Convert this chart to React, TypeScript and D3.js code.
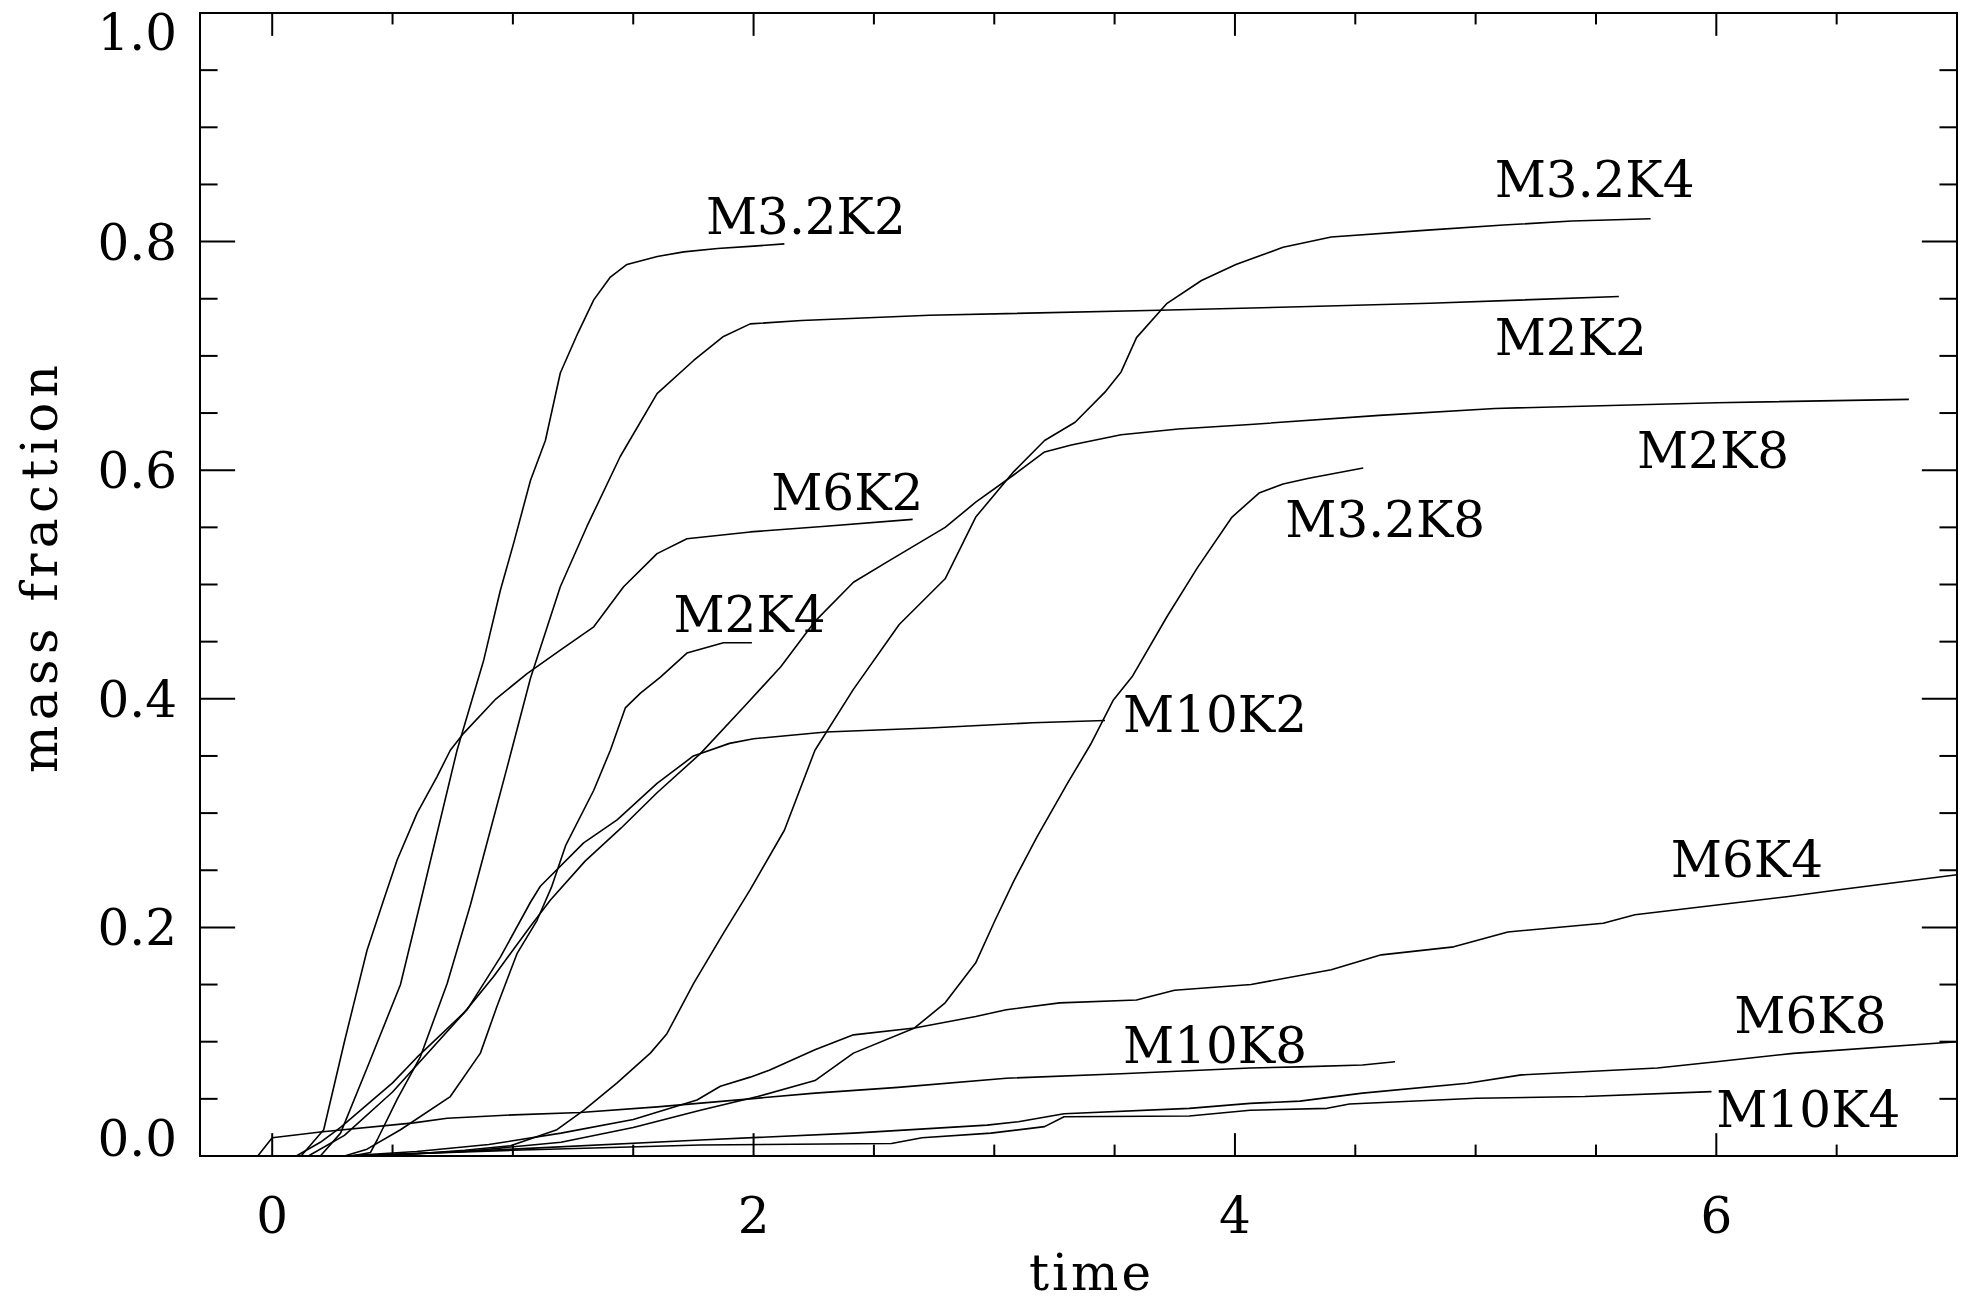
import React from 'react';
import * as d3 from 'd3';

// ---------- data (time, mass fraction) ----------
const M3_2K2: [number, number][] = [
  [0.2, 0], [0.284, 0.02], [0.4, 0.08], [0.533, 0.15], [0.616, 0.222], [0.768, 0.355], [0.879, 0.434],
  [0.948, 0.495], [1.003, 0.536], [1.073, 0.591], [1.135, 0.626], [1.197, 0.685], [1.27, 0.72],
  [1.336, 0.749], [1.405, 0.769], [1.474, 0.78], [1.6, 0.787], [1.71, 0.791], [1.85, 0.794],
  [2.0, 0.796], [2.128, 0.798],
];
const M2K2: [number, number][] = [
  [0.33, 0], [0.408, 0.003], [0.436, 0.014], [0.52, 0.05], [0.616, 0.087], [0.727, 0.151],
  [0.824, 0.22], [0.9, 0.28], [0.976, 0.34], [1.073, 0.418], [1.197, 0.498], [1.308, 0.551],
  [1.446, 0.612], [1.599, 0.667], [1.751, 0.696], [1.875, 0.717], [1.986, 0.728], [2.2, 0.731],
  [2.73, 0.7355], [3.685, 0.74], [4.27, 0.743], [4.81, 0.746], [5.595, 0.752],
];
const M6K2: [number, number][] = [
  [0.12, 0], [0.214, 0.023], [0.3, 0.1], [0.394, 0.18], [0.463, 0.224], [0.519, 0.259],
  [0.602, 0.3], [0.685, 0.332], [0.74, 0.355], [0.796, 0.37], [0.93, 0.4], [1.059, 0.422],
  [1.2, 0.443], [1.336, 0.463], [1.46, 0.498], [1.599, 0.527], [1.723, 0.54], [1.986, 0.546],
  [2.3, 0.551], [2.661, 0.557],
];
const M2K4: [number, number][] = [
  [0.3, 0], [0.394, 0.006], [0.533, 0.023], [0.74, 0.052], [0.865, 0.09], [0.934, 0.131],
  [1.017, 0.177], [1.1, 0.206], [1.16, 0.235], [1.22, 0.272], [1.336, 0.32], [1.405, 0.355],
  [1.467, 0.392], [1.53, 0.405], [1.613, 0.419], [1.723, 0.44], [1.875, 0.449], [1.993, 0.449],
];
const M10K2: [number, number][] = [
  [0.1, 0], [0.2, 0.012], [0.284, 0.025], [0.5, 0.064], [0.6, 0.086], [0.81, 0.128], [0.948, 0.174],
  [1.073, 0.222], [1.114, 0.236], [1.294, 0.274], [1.433, 0.294], [1.599, 0.326], [1.75, 0.35],
  [1.9, 0.361], [2.0, 0.365], [2.3, 0.371], [2.73, 0.3745], [3.16, 0.379], [3.46, 0.381],
];
const M2K8: [number, number][] = [
  [0.15, 0], [0.3, 0.018], [0.5, 0.056], [0.796, 0.125], [0.92, 0.157], [1.073, 0.201],
  [1.156, 0.224], [1.3, 0.258], [1.45, 0.287], [1.6, 0.318], [1.779, 0.352], [1.969, 0.395],
  [2.113, 0.428], [2.256, 0.468], [2.415, 0.502], [2.557, 0.52], [2.796, 0.55], [2.923, 0.572],
  [3.082, 0.596], [3.209, 0.616], [3.32, 0.622], [3.527, 0.631], [3.765, 0.636], [4.063, 0.64],
  [4.6, 0.648], [5.08, 0.654], [6.0, 0.659], [6.8, 0.662],
];
const M3_2K4: [number, number][] = [
  [0.3, 0], [0.6, 0.002], [0.8, 0.005], [0.99, 0.009], [1.183, 0.023], [1.294, 0.04], [1.433, 0.064],
  [1.571, 0.09], [1.64, 0.107], [1.751, 0.151], [1.875, 0.195], [1.986, 0.233], [2.128, 0.285],
  [2.255, 0.355], [2.414, 0.408], [2.605, 0.465], [2.796, 0.505], [2.923, 0.559], [3.082, 0.599],
  [3.209, 0.626], [3.336, 0.642], [3.463, 0.669], [3.527, 0.686], [3.591, 0.716], [3.718, 0.746],
  [3.861, 0.766], [4.004, 0.78], [4.2, 0.795], [4.4, 0.804], [4.8, 0.81], [5.116, 0.8145],
  [5.4, 0.818], [5.727, 0.82],
];
const M3_2K8: [number, number][] = [
  [0.4, 0], [0.8, 0.004], [1.2, 0.012], [1.5, 0.025], [1.779, 0.04], [2.017, 0.052], [2.255, 0.066],
  [2.415, 0.09], [2.669, 0.112], [2.796, 0.134], [2.923, 0.169], [3.003, 0.206], [3.082, 0.241],
  [3.177, 0.279], [3.304, 0.326], [3.4, 0.36], [3.495, 0.399], [3.575, 0.42], [3.718, 0.472],
  [3.845, 0.515], [3.988, 0.559], [4.1, 0.58], [4.2, 0.588], [4.307, 0.593], [4.533, 0.602],
];
const M6K4: [number, number][] = [
  [0.3, 0], [0.6, 0.004], [0.9, 0.01], [1.2, 0.02], [1.5, 0.032], [1.765, 0.049], [1.862, 0.061],
  [1.986, 0.069], [2.065, 0.075], [2.255, 0.093], [2.415, 0.106], [2.669, 0.112], [2.923, 0.122],
  [3.05, 0.128], [3.272, 0.134], [3.591, 0.1365], [3.749, 0.145], [4.067, 0.15], [4.4, 0.163],
  [4.608, 0.176], [4.909, 0.183], [5.134, 0.196], [5.53, 0.2036], [5.662, 0.211], [6.3, 0.227],
  [6.51, 0.233], [7.0, 0.246],
];
const M10K8: [number, number][] = [
  [-0.06, 0], [0.0, 0.016], [0.2, 0.021], [0.588, 0.029], [0.727, 0.033], [1.003, 0.036],
  [1.28, 0.038], [1.6, 0.043], [1.986, 0.05], [2.255, 0.055], [2.6, 0.06], [3.05, 0.068],
  [3.527, 0.072], [4.063, 0.077], [4.27, 0.078], [4.53, 0.0796], [4.665, 0.0825],
];
const M6K8: [number, number][] = [
  [0.35, 0], [1.0, 0.006], [1.779, 0.014], [2.415, 0.02], [2.97, 0.027], [3.1, 0.03], [3.29, 0.037],
  [3.81, 0.0417], [4.063, 0.046], [4.27, 0.048], [4.53, 0.055], [4.966, 0.0636], [5.19, 0.071],
  [5.755, 0.077], [6.0, 0.0825], [6.32, 0.0898], [7.0, 0.1],
];
const M10K4: [number, number][] = [
  [0.3, 0], [1.0, 0.005], [1.779, 0.0096], [2.573, 0.011], [2.7, 0.016], [2.986, 0.02],
  [3.209, 0.0257], [3.29, 0.0344], [3.81, 0.035], [4.063, 0.04], [4.383, 0.0417], [4.476, 0.0455],
  [5.003, 0.0505], [5.454, 0.052], [5.98, 0.0563],
];

const allSeries = [M3_2K2, M2K2, M6K2, M2K4, M10K2, M2K8, M3_2K4, M3_2K8, M6K4, M10K8, M6K8, M10K4];

// curve labels, anchored in data coordinates (left edge, baseline)
const labelText = ['M3.2K2', 'M2K2', 'M6K2', 'M2K4', 'M10K2', 'M2K8', 'M3.2K4', 'M3.2K8', 'M6K4', 'M10K8', 'M6K8', 'M10K4'];
const labelT = [1.802, 5.079, 2.073, 1.667, 3.535, 5.67, 5.079, 4.209, 5.811, 3.535, 6.075, 6.0];
const labelV = [0.8065, 0.7008, 0.5654, 0.4584, 0.3712, 0.6017, 0.8393, 0.5418, 0.2444, 0.0814, 0.1076, 0.0256];

// axes
const xDomain = [-0.3, 7.0];
const yDomain = [0, 1];
const xMajorTicks = [0, 2, 4, 6];
const xMinorStep = 0.5;
const yMajorTicks = [0, 0.2, 0.4, 0.6, 0.8, 1.0];
const yMinorStep = 0.05;
const xTitle = 'time';
const yTitle = 'mass fraction';

const W = 1973;
const H = 1305;
const L = 200, R = 1957, T = 13, B = 1156;
const FONT = '"DejaVu Serif", serif';
const FS = 50;

export default function App() {
  const x = d3.scaleLinear().domain(xDomain).range([L, R]);
  const y = d3.scaleLinear().domain(yDomain).range([B, T]);
  const line = d3.line<[number, number]>().x(d => x(d[0])).y(d => y(d[1])).curve(d3.curveLinear);

  const isMajorX = (v: number) => xMajorTicks.some(m => Math.abs(m - v) < 1e-6);
  const isMajorY = (v: number) => yMajorTicks.some(m => Math.abs(m - v) < 1e-6);
  const xMinor = d3.range(0, xDomain[1] + 1e-6, xMinorStep).filter(v => !isMajorX(v) && v < xDomain[1] - 1e-6);
  const yMinor = d3.range(0, yDomain[1] + 1e-6, yMinorStep).filter(v => !isMajorY(v));

  const plotW = R - L, plotH = B - T;
  const xMajLen = 0.02 * plotH, xMinLen = 0.01 * plotH;
  const yMajLen = 0.02 * plotW, yMinLen = 0.01 * plotW;

  const sw = 2;

  return (
    <svg width={W} height={H} style={{ position: 'absolute', left: 0, top: 0, background: '#fff' }}>
      <rect x={0} y={0} width={W} height={H} fill="#fff" />
      <g stroke="#000" fill="none">
        {allSeries.map((s, i) => (
          <path key={i} d={line(s) || ''} strokeWidth={1.6} strokeLinejoin="round" />
        ))}
      </g>
      {/* frame */}
      <rect x={L} y={T} width={plotW} height={plotH} fill="none" stroke="#000" strokeWidth={sw} />
      {/* ticks */}
      <g stroke="#000" strokeWidth={sw}>
        {xMajorTicks.map(v => (
          <g key={'xM' + v}>
            <line x1={x(v)} x2={x(v)} y1={B} y2={B - xMajLen} />
            <line x1={x(v)} x2={x(v)} y1={T} y2={T + xMajLen} />
          </g>
        ))}
        {xMinor.map(v => (
          <g key={'xm' + v}>
            <line x1={x(v)} x2={x(v)} y1={B} y2={B - xMinLen} />
            <line x1={x(v)} x2={x(v)} y1={T} y2={T + xMinLen} />
          </g>
        ))}
        {yMajorTicks.map(v => (
          <g key={'yM' + v}>
            <line x1={L} x2={L + yMajLen} y1={y(v)} y2={y(v)} />
            <line x1={R} x2={R - yMajLen} y1={y(v)} y2={y(v)} />
          </g>
        ))}
        {yMinor.map(v => (
          <g key={'ym' + v}>
            <line x1={L} x2={L + yMinLen} y1={y(v)} y2={y(v)} />
            <line x1={R} x2={R - yMinLen} y1={y(v)} y2={y(v)} />
          </g>
        ))}
      </g>
      <g fontFamily={FONT} fontSize={FS} fill="#000">
        {xMajorTicks.map(v => (
          <text key={'xl' + v} x={x(v)} y={1233} textAnchor="middle">{d3.format('d')(v)}</text>
        ))}
        {yMajorTicks.map(v => (
          <text key={'yl' + v} x={177} y={Math.min(Math.max(y(v) + 18, T + 37), B)} textAnchor="end">
            {d3.format('.1f')(v)}
          </text>
        ))}
        <text x={1029} y={1290} textLength={122} lengthAdjust="spacing">{xTitle}</text>
        <text transform={`translate(57, 773) rotate(-90)`} textLength={408} lengthAdjust="spacing">{yTitle}</text>
        {labelText.map((s, i) => (
          <text key={s} x={x(labelT[i])} y={y(labelV[i])}>{s}</text>
        ))}
      </g>
    </svg>
  );
}
